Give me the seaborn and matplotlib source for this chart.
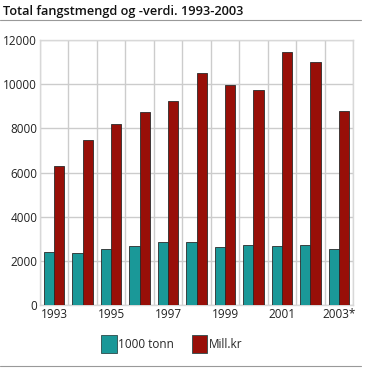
import numpy as np
import pandas as pd
import matplotlib
matplotlib.use("Agg")
import matplotlib.pyplot as plt
import seaborn as sns
from matplotlib.lines import Line2D

# data
years = ["1993", "1994", "1995", "1996", "1997", "1998", "1999", "2000", "2001", "2002", "2003*"]
tonn = [2420, 2370, 2530, 2670, 2870, 2870, 2620, 2710, 2680, 2740, 2550]
mill_kr = [6290, 7480, 8210, 8730, 9240, 10520, 9960, 9720, 11440, 10990, 8770]
series = ["1000 tonn", "Mill.kr"]
colors = ["#1a9898", "#980f08"]
yticks = [0, 2000, 4000, 6000, 8000, 10000, 12000]

df = pd.DataFrame({
    "year": years * 2,
    "value": tonn + mill_kr,
    "series": [series[0]] * len(years) + [series[1]] * len(years),
})

sns.set_style("white")
plt.rcParams["font.family"] = ["Open Sans", "DejaVu Sans"]

fig = plt.figure(figsize=(3.85, 3.9), dpi=100)
ax = fig.add_axes([40 / 385, 1 - 305.3 / 390, 313 / 385, 265.3 / 390])

sns.barplot(data=df, x="year", y="value", hue="series", palette=colors,
            saturation=1, width=0.72, gap=0, edgecolor="#2a2a2a", linewidth=0.6,
            ax=ax, zorder=3)

ax.set_ylim(0, 12000)
ax.set_xlim(-0.5, len(years) - 0.5)
ax.set_yticks(yticks)
ax.set_yticklabels([str(t) for t in yticks], fontsize=8.5, color="#222222")
ax.set_xticks(range(len(years)))
ax.set_xticklabels([y if i % 2 == 0 else "" for i, y in enumerate(years)],
                   fontsize=8.5, color="#222222")
ax.set_xticks(np.arange(-0.5, len(years), 1), minor=True)
ax.tick_params(axis="both", which="both", length=0, pad=2)
ax.set_xlabel("")
ax.set_ylabel("")

# grid
ax.grid(axis="y", which="major", color="#cccccc", linewidth=1, zorder=0)
ax.grid(axis="x", which="minor", color="#cccccc", linewidth=1, zorder=0)
ax.grid(axis="x", which="major", visible=False)
for s in ax.spines.values():
    s.set_color("#d8d8d8")
    s.set_linewidth(1)

ax.get_legend().remove()
handles = [plt.Rectangle((0, 0), 1, 1, facecolor=c, edgecolor="#2a4a4a", linewidth=0.6) for c in colors]
fig.legend(handles, series, loc="center", bbox_to_anchor=(172 / 385, 1 - 344 / 390),
           ncol=2, frameon=False, fontsize=8.5, handlelength=1.3, handleheight=1.9,
           handletextpad=0.15, columnspacing=1.5)

fig.text(3 / 385, 1 - 11 / 390, "Total fangstmengd og -verdi. 1993-2003",
         fontsize=9.2, fontweight="semibold", va="center", ha="left", color="#111111")

fig.add_artist(Line2D([0, 361 / 385], [1 - 20 / 390] * 2, color="#999999", linewidth=0.8))
fig.add_artist(Line2D([0, 361 / 385], [1 - 366 / 390] * 2, color="#999999", linewidth=0.8))

fig.savefig("out.png", dpi=100)
